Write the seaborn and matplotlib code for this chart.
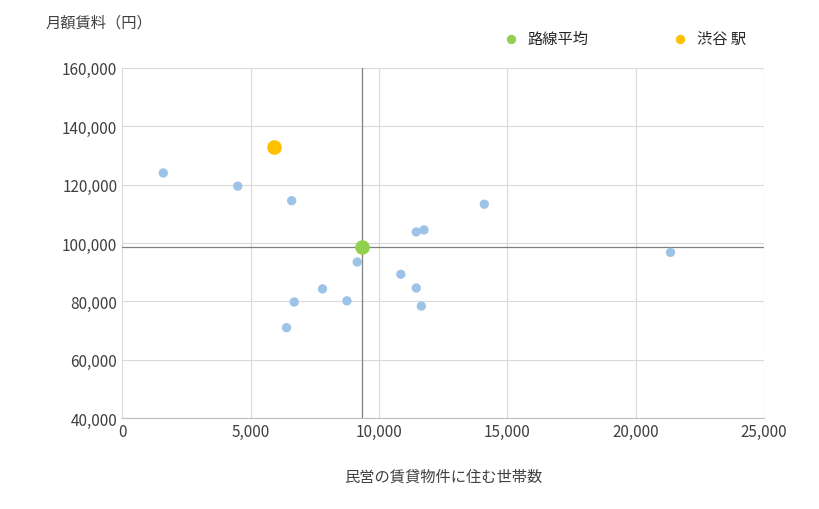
import matplotlib
matplotlib.use("Agg")
import matplotlib.pyplot as plt
import seaborn as sns
import pandas as pd

# 各駅の値（民営の賃貸物件に住む世帯数, 月額賃料）
households = [1600, 4500, 6600, 6400, 6700, 7800, 8750, 9150, 10850, 11450, 11750, 11450, 11650, 14100, 21350]
rents = [124000, 119500, 114500, 71000, 79800, 84300, 80200, 93500, 89300, 103800, 104500, 84600, 78400, 113300, 96800]
avg_x, avg_y = 9350, 98500
target_x, target_y = 5900, 133000

sns.set_style("white")
plt.rcParams['font.family'] = ['Noto Sans CJK JP', 'DejaVu Sans']

fig = plt.figure(figsize=(8.2, 5.1), dpi=100)
ax = fig.add_axes([0.149, 0.178, 0.783, 0.687])

df = pd.DataFrame({"x": households, "y": rents})
sns.scatterplot(data=df, x="x", y="y", ax=ax, color="#9dc3e6", s=45, edgecolor="none", zorder=3)
ax.axvline(avg_x, color="#808080", lw=0.9, zorder=2)
ax.axhline(avg_y, color="#808080", lw=0.9, zorder=2)
ax.scatter([avg_x], [avg_y], color="#92d050", s=90, zorder=4, label="路線平均")
ax.scatter([target_x], [target_y], color="#ffc000", s=90, zorder=4, label="渋谷 駅")

ax.set_xlim(0, 25000)
ax.set_ylim(40000, 160000)
ax.set_xticks(range(0, 25001, 5000))
ax.set_yticks(range(40000, 160001, 20000))
ax.xaxis.set_major_formatter(matplotlib.ticker.StrMethodFormatter("{x:,.0f}"))
ax.yaxis.set_major_formatter(matplotlib.ticker.StrMethodFormatter("{x:,.0f}"))
ax.grid(True, color="#d9d9d9", lw=0.8)
ax.set_axisbelow(True)
for s in ["top", "right"]:
    ax.spines[s].set_visible(False)
ax.spines["left"].set_visible(False)
ax.spines["bottom"].set_color("#bfbfbf")
ax.tick_params(labelsize=11, colors="#404040", length=0)
ax.set_xlabel("民営の賃貸物件に住む世帯数", fontsize=11, color="#404040", labelpad=20)
ax.set_ylabel("")
fig.text(0.055, 0.955, "月額賃料（円）", fontsize=11, color="#404040", va="center")

ax.legend(loc="lower left", bbox_to_anchor=(0.56, 1.02), ncol=2, frameon=False,
          fontsize=11, markerscale=0.6, handletextpad=0.1, columnspacing=5)

fig.savefig("out.png", dpi=100)
